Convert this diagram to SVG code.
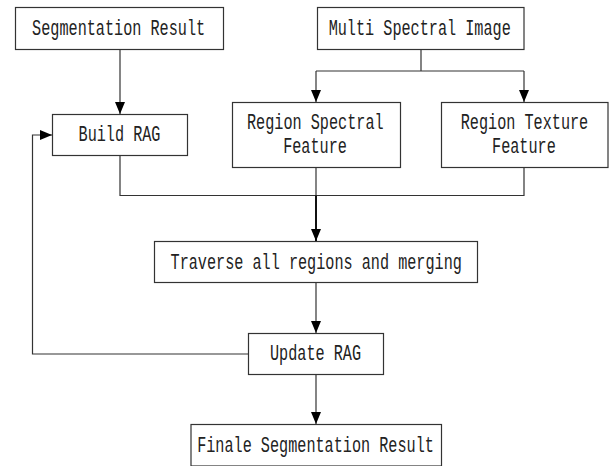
<svg xmlns="http://www.w3.org/2000/svg" width="609" height="466" viewBox="0 0 609 466">
<style>
.box{fill:#fff;stroke:#333;stroke-width:1.2}
.lbl{font-family:"Liberation Mono","Courier New",monospace;font-size:22px;fill:#222;text-anchor:middle}
.ln{fill:none;stroke:#333;stroke-width:1.2}
.ar{fill:none;stroke:#333;stroke-width:1.2;marker-end:url(#ah)}
</style>
<defs>
<marker id="ah" markerUnits="userSpaceOnUse" markerWidth="12" markerHeight="10" refX="12" refY="5" orient="auto">
<path d="M0,0 L12,5 L0,10 z" fill="#000"/>
</marker>
</defs>
<rect width="609" height="466" fill="#fff"/>
<g id="connectors">
<path class="ar" d="M120,49.5 V114"/>
<path class="ln" d="M421,49.5 V71 M316,71 H524"/>
<path class="ar" d="M316,71 V102"/>
<path class="ar" d="M524,71 V102"/>
<path class="ln" d="M120,155.5 V195.5 H524 V167.5"/>
<path class="ln" d="M316,167.5 V195.5"/>
<path d="M316,195.5 V241" fill="none" stroke="#111" stroke-width="2" marker-end="url(#ah)"/>
<path class="ar" d="M316,282.5 V333"/>
<path class="ar" d="M316,374.5 V424"/>
<path class="ar" d="M248.5,354 H32.5 V135 H52"/>
</g>
<g id="seg">
<rect class="box" x="15.5" y="7.5" width="208" height="42"/>
<text class="lbl" transform="translate(118.6,34.5) scale(0.69,1)">Segmentation Result</text>
</g>
<g id="msi">
<rect class="box" x="317.5" y="7.5" width="206.5" height="42"/>
<text class="lbl" transform="translate(419.7,35) scale(0.69,1)">Multi Spectral Image</text>
</g>
<g id="build">
<rect class="box" x="52.5" y="114.5" width="135" height="41"/>
<text class="lbl" transform="translate(119.5,140.7) scale(0.69,1)">Build RAG</text>
</g>
<g id="spectral">
<rect class="box" x="232.5" y="102.5" width="168" height="65"/>
<text class="lbl" transform="translate(315.3,129.3) scale(0.69,1)">Region Spectral</text>
<text class="lbl" transform="translate(315,153.3) scale(0.69,1)">Feature</text>
</g>
<g id="texture">
<rect class="box" x="441.5" y="102.5" width="166.5" height="65"/>
<text class="lbl" transform="translate(524.5,129.3) scale(0.69,1)">Region Texture</text>
<text class="lbl" transform="translate(523.9,153.3) scale(0.69,1)">Feature</text>
</g>
<g id="traverse">
<rect class="box" x="154.5" y="241.5" width="323" height="41"/>
<text class="lbl" transform="translate(316.2,269.3) scale(0.69,1)">Traverse all regions and merging</text>
</g>
<g id="update">
<rect class="box" x="248.5" y="333.5" width="135" height="41"/>
<text class="lbl" transform="translate(315.5,360) scale(0.69,1)">Update RAG</text>
</g>
<g id="final">
<rect class="box" x="191" y="424.5" width="250.5" height="41.5"/>
<text class="lbl" transform="translate(315.5,451.7) scale(0.69,1)">Finale Segmentation Result</text>
</g>
</svg>
